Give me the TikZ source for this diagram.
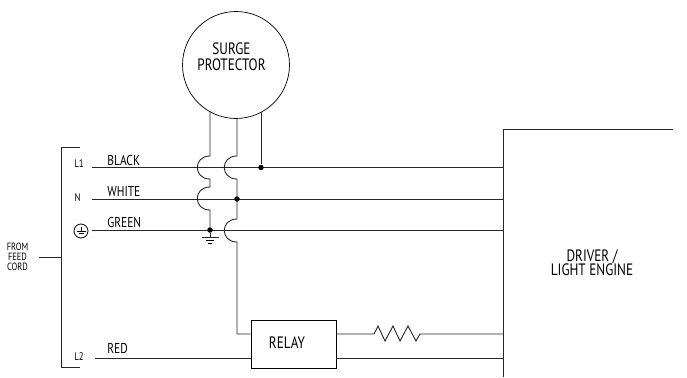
\documentclass[tikz,border=0pt]{standalone}
\usepackage{fontspec}
\setmainfont{PT Sans}[FakeStretch=0.8]
\tikzset{every picture/.style={line width=0.8pt}}
\tikzset{
  wire/.style={line width=0.9pt,black!85},
  dot/.style={circle,fill=black,inner sep=0pt,minimum size=5.5pt},
  label/.style={inner sep=0pt,font=\fontsize{14.3}{14.3}\selectfont},
  small/.style={inner sep=0pt,font=\fontsize{11}{11}\selectfont},
  title/.style={inner sep=0pt,align=center,font=\fontsize{16.5}{16}\selectfont},
  hop/.style={insert path={.. controls +(-17,0) and +(-17,0) .. +(0,23)}}
}
\begin{document}
\begin{tikzpicture}[x=1pt,y=1pt,yscale=-1,xscale=1]
\useasboundingbox (0,0) rectangle (687,377);

%Surge protector
\node (surge) [draw,circle,minimum size=107pt,inner sep=0pt,line width=0.7pt] at (236,65) {};
\node (surgetxt) [title] at (231.5,57) {SURGE\\PROTECTOR};
\node (relay) [draw,minimum width=85pt,minimum height=48pt,inner sep=0pt] at (293.5,344) {};
\node (relaytxt) [title] at (287,343) {RELAY};
\node (driver) [title] at (592,263) {DRIVER /\\[-2pt]LIGHT ENGINE};

%Driver outline
\coordinate (drvtop) at (503,129);
\coordinate (drvtopr) at (673,129);
\coordinate (drvbot) at (503,377);
\draw [wire] (drvtopr) -- (drvtop) -- (drvbot);

%Feed bracket
\coordinate (brtop) at (80,147);
\coordinate (brtopl) at (61,147);
\coordinate (brbotl) at (61,367);
\coordinate (brbot) at (80,367);
\coordinate (brmid) at (61,257);
\coordinate (feed) at (39,257);
\draw [wire] (brtop) -- (brtopl) -- (brbotl) -- (brbot);
\draw [wire] (feed) -- (brmid);
\node (from) [inner sep=0pt,align=center,font=\fontsize{10.5}{10}\selectfont] at (17.5,256.5) {FROM\\FEED\\CORD};

%Line labels
\node (l1) [small] at (79,164) {L1};
\node (n) [small] at (77.5,198) {N};
\node (l2) [small] at (79,357) {L2};
\node (earth) [draw,circle,minimum size=14pt,inner sep=0pt] at (81,231) {};
\draw [line width=0.7pt] ([yshift=-4.5pt]earth.center) -- (earth.center);
\draw [line width=0.7pt] ([xshift=-4.5pt]earth.center) -- ([xshift=4.5pt]earth.center);
\draw [line width=0.7pt] ([xshift=-2.5pt,yshift=2.5pt]earth.center) -- ([xshift=2.5pt,yshift=2.5pt]earth.center);

%Horizontal wires
\coordinate (blacka) at (92,167.5);
\coordinate (blackb) at (503,167.5);
\coordinate (whitea) at (92,199);
\coordinate (whiteb) at (503,199);
\coordinate (greena) at (92,230);
\coordinate (greenb) at (503,230);
\coordinate (reda) at (95,358);
\coordinate (redb) at (250.5,358);
\draw [wire] (blacka) -- (blackb);
\draw [wire] (whitea) -- (whiteb);
\draw [wire] (greena) -- (greenb);
\draw [wire] (reda) -- (redb);
\node (black) [label,anchor=base west] at (107,165) {BLACK};
\node (white) [label,anchor=base west] at (107,196.5) {WHITE};
\node (green) [label,anchor=base west] at (107,227.5) {GREEN};
\node (red) [label,anchor=base west] at (107,353) {RED};

%Wires from surge protector
\node (dotl) [dot] at (210,230) {};
\node (dotn) [dot] at (237,199) {};
\node (doth) [dot] at (261,167.5) {};
\coordinate (sa) at (210,111);
\coordinate (sb) at (237,118);
\coordinate (sc) at (261,112);
\coordinate (ja) at (210,156);
\coordinate (jb) at (210,187);
\coordinate (jc) at (237,156);
\coordinate (jd) at (237,219);
\draw [wire] (sa) -- (ja) [hop] -- (jb) [hop] -- (dotl);
\draw [wire] (sb) -- (jc) [hop] -- (jd) [hop] |- ([yshift=-10pt]relay.west);
\draw [wire] (sc) -- (doth);

%Ground
\coordinate (gnd) at (210,237);
\draw [wire] (dotl) -- (gnd);
\draw [wire] ([xshift=-8.5pt]gnd) -- ([xshift=8.5pt]gnd);
\draw [line width=0.7pt] (206,240.2) -- (214,240.2);
\draw [line width=0.7pt] (208,243.2) -- (212,243.2);

%Relay outputs
\coordinate (za) at (374,334);
\coordinate (zb) at (420,334);
\coordinate (oa) at (503,334);
\coordinate (ob) at (503,358);
\draw [wire] ([yshift=-10pt]relay.east) -- (za) -- (378,326) -- (385,341) -- (393,326) -- (400,341) -- (408,326) -- (416,341) -- (zb) -- (oa);
\draw [wire] ([yshift=14pt]relay.east) -- (ob);
\end{tikzpicture}
\end{document}
